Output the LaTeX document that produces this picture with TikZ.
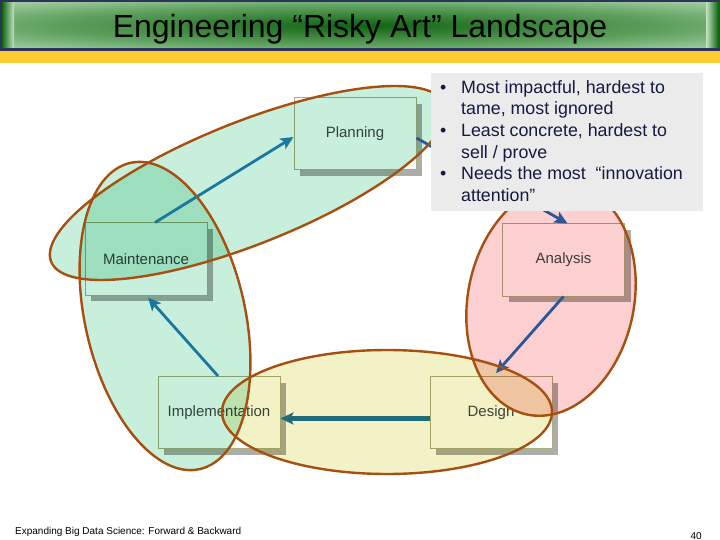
\documentclass[tikz,border=0pt]{standalone}
\usepackage{fontspec}
\setmainfont{Liberation Sans}
\usetikzlibrary{arrows.meta,shadows}
\definecolor{navy}{RGB}{44,52,92}
\definecolor{tgdark}{RGB}{16,100,16}
\definecolor{tgmid}{RGB}{96,162,96}
\definecolor{tglight}{RGB}{196,226,196}
\definecolor{tgedge}{RGB}{0,92,0}
\definecolor{band}{RGB}{255,204,51}
\definecolor{boxborder}{RGB}{172,172,128}
\definecolor{boxtext}{RGB}{64,72,72}
\definecolor{shadowgrey}{RGB}{172,172,168}
\definecolor{greenE}{RGB}{200,238,220}
\definecolor{pinkE}{RGB}{252,208,208}
\definecolor{yellowE}{RGB}{242,242,198}
\definecolor{brownE}{RGB}{165,80,16}
\definecolor{tealA}{RGB}{26,120,160}
\definecolor{blueA}{RGB}{44,86,150}
\definecolor{tealB}{RGB}{31,107,120}
\definecolor{tbfill}{RGB}{235,235,235}
\definecolor{tbtext}{RGB}{20,26,64}
\pgfdeclareradialshading{titleshade}{\pgfpoint{0bp}{0bp}}{color(0bp)=(tgdark); color(22bp)=(tgmid); color(42bp)=(tglight); color(50bp)=(tglight)}
\tikzset{
  stagebox/.style={draw=boxborder, line width=1pt, fill=white,
    minimum width=122pt, minimum height=72pt, inner sep=0pt,
    font=\fontsize{15}{15}\selectfont, text=boxtext,
    drop shadow={shadow xshift=6pt, shadow yshift=-6pt, fill=shadowgrey, opacity=1}},
  flow/.style={line width=2.8pt, -{Stealth[length=13pt,width=12pt,inset=3pt]}},
  ring/.style={draw=brownE, line width=2.4pt},
  bul/.style={anchor=base west, inner sep=0pt, text=tbtext, font=\fontsize{17.8}{17.8}\selectfont}
}
\begin{document}
\begin{tikzpicture}[x=1pt,y=-1pt]
\useasboundingbox (0,0) rectangle (720,540);
\fill[white] (0,0) rectangle (720,540);
% title bar
\fill[navy] (0,0) rectangle (720,51);
\shade[shading=titleshade] (1,3) rectangle (719,48);
\shade[left color=tgedge, right color=tglight] (1,3) rectangle (14,48);
\shade[left color=tglight, right color=tgedge] (706,3) rectangle (719,48);
\fill[band] (0,51) rectangle (720,63);
\node[anchor=base, inner sep=0pt, font=\fontsize{32}{32}\selectfont] (title) at (360,38) {Engineering “Risky Art” Landscape};
% stage boxes
\node[stagebox] (plan)  at (355,134) {Planning};
\node[stagebox] (maint) at (146,259) {Maintenance};
\node[stagebox] (ana)   at (563.5,260) {Analysis};
\node[stagebox] (des)   at (491,412.5) {Design};
\node[stagebox] (impl)  at (219,412.5) {Implementation};
% translucent ellipses
\begin{scope}[blend mode=multiply]
\fill[greenE] (248,183) ellipse [x radius=212, y radius=61, rotate=21.8];
\fill[greenE] (165,316) ellipse [x radius=157, y radius=80, rotate=102.8];
\fill[pinkE] (551,300) ellipse [x radius=117, y radius=83, rotate=78.2];
\fill[yellowE] (387,412) ellipse [x radius=165, y radius=62];
\end{scope}
% arrows
\draw[flow, tealA] ([xshift=9pt]maint.north) -- ([yshift=-3pt]plan.west);
\draw[flow, blueA] ([yshift=-4pt]plan.east) -- ([xshift=4pt]ana.north);
\draw[flow, blueA] (ana.south) -- ([xshift=5pt,yshift=3pt]des.north);
\draw[flow, tealB, line width=4.2pt] ([yshift=-6pt]des.west) -- ([yshift=-6pt]impl.east);
\draw[flow, tealA] ([xshift=-1pt]impl.north) -- ([xshift=2pt,yshift=-2pt]maint.south);
% ellipse outlines
\draw[ring] (248,183) ellipse [x radius=212, y radius=61, rotate=21.8];
\draw[ring] (165,316) ellipse [x radius=157, y radius=80, rotate=102.8];
\draw[ring] (551,300) ellipse [x radius=117, y radius=83, rotate=78.2];
\draw[ring] (387,412) ellipse [x radius=165, y radius=62];
% text box
\node[fill=tbfill, minimum width=272pt, minimum height=138pt, inner sep=0pt] (tb) at (567,142) {};
\node[bul] (t1) at (440,94)  {\makebox[21pt][l]{•}Most impactful, hardest to};
\node[bul] (t2) at (440,115) {\hspace*{21pt}tame, most ignored};
\node[bul] (t3) at (440,137) {\makebox[21pt][l]{•}Least concrete, hardest to};
\node[bul] (t4) at (440,159) {\hspace*{21pt}sell / prove};
\node[bul] (t5) at (440,180) {\makebox[21pt][l]{•}Needs the most~~“innovation};
\node[bul] (t6) at (440,202) {\hspace*{21pt}attention”};
% footer
\node[anchor=base west, inner sep=0pt, font=\fontsize{10}{10}\selectfont] (foot) at (15,534) {Expanding Big Data Science: Forward \& Backward};
\node[anchor=base east, inner sep=0pt, font=\fontsize{10}{10}\selectfont] (pg) at (702,539) {40};
\end{tikzpicture}
\end{document}
